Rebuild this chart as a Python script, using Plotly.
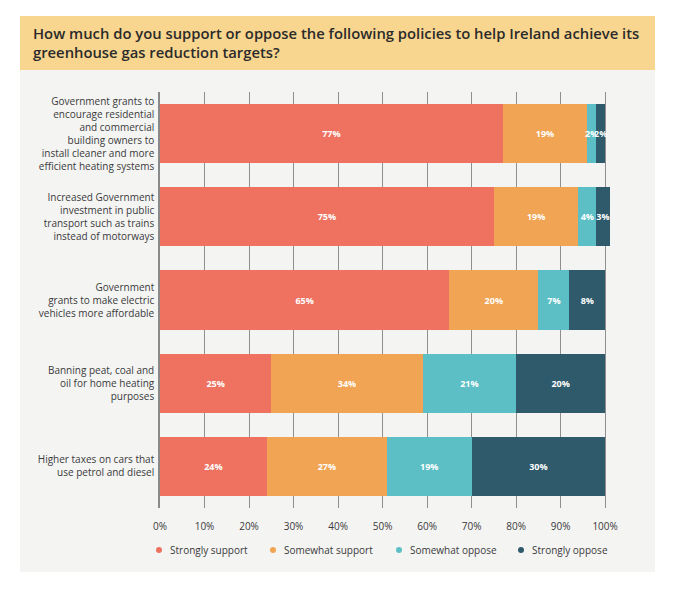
import plotly.graph_objects as go

categories = [
    "Government grants to<br>encourage residential<br>and commercial<br>building owners to<br>install cleaner and more<br>efficient heating systems",
    "Increased Government<br>investment in public<br>transport such as trains<br>instead of motorways",
    "Government<br>grants to make electric<br>vehicles more affordable",
    "Banning peat, coal and<br>oil for home heating<br>purposes",
    "Higher taxes on cars that<br>use petrol and diesel",
]
series_names = ["Strongly support", "Somewhat support", "Somewhat oppose", "Strongly oppose"]
strongly_support = [77, 75, 65, 25, 24]
somewhat_support = [19, 19, 20, 34, 27]
somewhat_oppose = [2, 4, 7, 21, 19]
strongly_oppose = [2, 3, 8, 20, 30]
tick_values = [0, 10, 20, 30, 40, 50, 60, 70, 80, 90, 100]
tick_labels = ["0%", "10%", "20%", "30%", "40%", "50%", "60%", "70%", "80%", "90%", "100%"]

colors = ["#EE725F", "#F1A453", "#5CBFC5", "#2E5A6B"]
series_values = [strongly_support, somewhat_support, somewhat_oppose, strongly_oppose]

FONT = "Open Sans"
# page is drawn with an 8px body margin; layout numbers below are figure pixels
L, T, PW, PH = 152, 84, 454, 416   # plot area left/top/width/height


def px(x):
    return (x - L) / PW


def py(y):
    return (T + PH - y) / PH


fig = go.Figure()
for name, vals, col in zip(series_names, series_values, colors):
    fig.add_trace(go.Bar(
        y=categories, x=vals, name=name, orientation="h",
        marker=dict(color=col, line=dict(width=0)),
        text=[f"{v}%" for v in vals], textposition="inside",
        insidetextanchor="middle", textangle=0, constraintext="none",
        textfont=dict(family=FONT, size=9, color="white", weight="bold"),
        showlegend=False, hoverinfo="skip",
    ))

# legend built as dots + labels
legend_dot_x = [151, 265, 391, 513]
legend_y = 542
shapes = [
    dict(type="rect", xref="paper", yref="paper", layer="below",
         x0=px(12), x1=px(647), y0=py(564), y1=py(62),
         fillcolor="#F4F4F3", line=dict(width=0)),
    dict(type="rect", xref="paper", yref="paper", layer="below",
         x0=px(12), x1=px(647), y0=py(62), y1=py(8),
         fillcolor="#F9D68F", line=dict(width=0)),
]
annotations = []
for name, col, dx in zip(series_names, colors, legend_dot_x):
    shapes.append(dict(type="circle", xref="paper", yref="paper",
                       xsizemode="pixel", ysizemode="pixel",
                       xanchor=px(dx), yanchor=py(legend_y),
                       x0=-3, x1=3, y0=-3, y1=3,
                       fillcolor=col, line=dict(width=0)))
    annotations.append(dict(text=name, xref="paper", yref="paper",
                            x=px(dx + 9), y=py(legend_y), xanchor="left", yanchor="middle",
                            showarrow=False,
                            font=dict(family=FONT, size=10, color="#3a3a3a")))

fig.update_layout(
    width=680, height=596,
    barmode="stack", bargap=0.29,
    paper_bgcolor="white", plot_bgcolor="rgba(0,0,0,0)",
    margin=dict(l=L, r=680 - L - PW, t=T, b=596 - T - PH),
    font=dict(family=FONT, color="#3a3a3a"),
    showlegend=False,
    title=dict(
        text="How much do you support or oppose the following policies to help Ireland achieve its<br>greenhouse gas reduction targets?",
        xref="container", yref="container", x=25/680, xanchor="left",
        y=1 - 31/596, yanchor="top",
        font=dict(family=FONT, size=14.8, color="#2b2b2b", weight=600),
    ),
    xaxis=dict(
        range=[0, 102], tickvals=tick_values, ticktext=tick_labels,
        showgrid=True, gridcolor="#8f8f8f", gridwidth=1,
        zeroline=False, showline=False,
        ticks="outside", ticklen=9, tickcolor="rgba(0,0,0,0)",
        tickfont=dict(family=FONT, size=10, color="#3a3a3a"),
        fixedrange=True,
    ),
    yaxis=dict(
        autorange="reversed", showgrid=False, zeroline=False,
        showline=True, linecolor="#8a8a8a", linewidth=1.5,
        ticks="outside", ticklen=2, tickcolor="rgba(0,0,0,0)",
        tickfont=dict(family=FONT, size=10, color="#3a3a3a"),
        fixedrange=True,
    ),
    shapes=shapes,
    annotations=annotations,
)

fig.write_html("out.html")
